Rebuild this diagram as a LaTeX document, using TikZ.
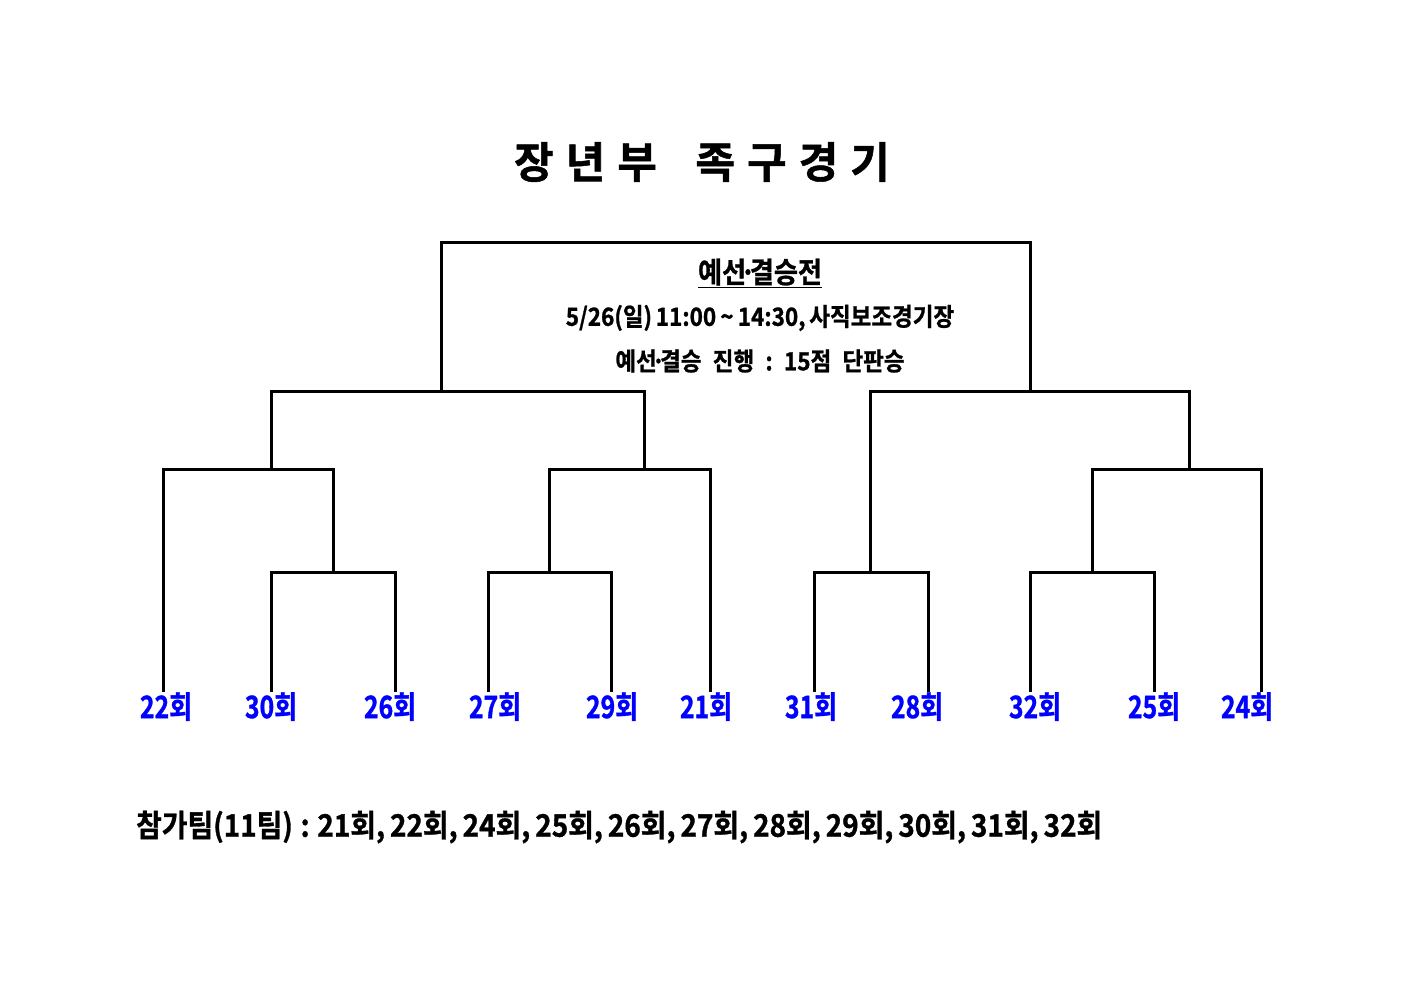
\documentclass[tikz,border=0pt]{standalone}
\usepackage{fontspec}
\newfontfamily\krtitle[FakeBold=1.2]{Noto Sans CJK KR Bold}
\newfontfamily\krc[FakeStretch=0.8,FakeBold=1]{Noto Sans CJK KR Bold}
\newfontfamily\kri[FakeStretch=0.9,FakeBold=1]{Noto Sans CJK KR Bold}
\definecolor{teamblue}{RGB}{0,0,255}
\newcommand{\mdot}{\kern-0.2em·\kern-0.2em}
\begin{document}
\begin{tikzpicture}[x=1pt,y=-1pt,
  br/.style={line width=3pt,line cap=rect},
  team/.style={font=\krc\fontsize{31}{31}\selectfont,text=teamblue,inner sep=0pt,anchor=north},
  info/.style={font=\kri\fontsize{25}{25}\selectfont,inner sep=0pt}]
\useasboundingbox (0,0) rectangle (1403,992);
\fill[white] (0,0) rectangle (1403,992);
% title
\node[font=\krtitle\fontsize{43}{43}\selectfont,inner sep=0pt] (title) at (702,162) {장\hspace{0.28em}년\hspace{0.28em}부\hspace{0.9em}족\hspace{0.28em}구\hspace{0.28em}경\hspace{0.28em}기};
% top box
\coordinate (bl) at (441,391);
\coordinate (br) at (1030,391);
\draw[br] (bl) |- (736,243) -| (br);
\node[info,font=\kri\fontsize{29}{29}\selectfont] (h1) at (760,273) {\underline{예선\mdot 결승전}};
\node[info] (h2) at (760,318) {5/26(일)\hspace{0.15em}11:00\,\textasciitilde\,14:30,\hspace{0.15em}사직보조경기장};
\node[info] (h3) at (760,361) {예선\mdot 결승\hspace{0.45em}진행\hspace{0.45em}:\hspace{0.45em}15점\hspace{0.45em}단판승};
% junction coordinates
\coordinate (L) at (271,391); \coordinate (Lr) at (644,391);
\coordinate (R) at (870,391); \coordinate (Rr) at (1189,391);
\coordinate (A) at (271,469); \coordinate (B) at (644,469);
\coordinate (D) at (1189,469);
\coordinate (A2) at (333,469);
\coordinate (a) at (333,572); \coordinate (b) at (549,572);
\coordinate (c) at (870,572); \coordinate (d) at (1092,572);
% teams
\node[team] (t22) at (166,692) {22회};
\node[team] (t30) at (271,692) {30회};
\node[team] (t26) at (390,692) {26회};
\node[team] (t27) at (495,692) {27회};
\node[team] (t29) at (612,692) {29회};
\node[team] (t21) at (706,692) {21회};
\node[team] (t31) at (811,692) {31회};
\node[team] (t28) at (917,692) {28회};
\node[team] (t32) at (1035,692) {32회};
\node[team] (t25) at (1154,692) {25회};
\node[team] (t24) at (1247,692) {24회};
% bracket lines
\draw[br] (L) -- (Lr);
\draw[br] (R) -- (Rr);
\draw[br] (L) -- (A); \draw[br] (Lr) -- (B);
\draw[br] (Rr) -- (D); \draw[br] (R) -- (c);
% left quarter
\draw[br] (163,690) |- (A2) -- (a);
\draw[br] (271,690) |- (a) -| (395,690);
% left-middle quarter
\draw[br] (b) |- (710,469) -- (710,690);
\draw[br] (488,690) |- (b) -| (611,690);
% right-middle
\draw[br] (814,690) |- (c) -| (928,690);
% right quarter
\draw[br] (d) |- (1261,469) -- (1261,690);
\draw[br] (1030,690) |- (d) -| (1154,690);
% footer
\node[font=\kri\fontsize{31}{31}\selectfont,inner sep=0pt,anchor=west] (foot) at (136,827) {참가팀(11팀)\hspace{0.25em}:\hspace{0.25em}21회,\hspace{0.16em}22회,\hspace{0.16em}24회,\hspace{0.16em}25회,\hspace{0.16em}26회,\hspace{0.16em}27회,\hspace{0.16em}28회,\hspace{0.16em}29회,\hspace{0.16em}30회,\hspace{0.16em}31회,\hspace{0.16em}32회};
\end{tikzpicture}
\end{document}
